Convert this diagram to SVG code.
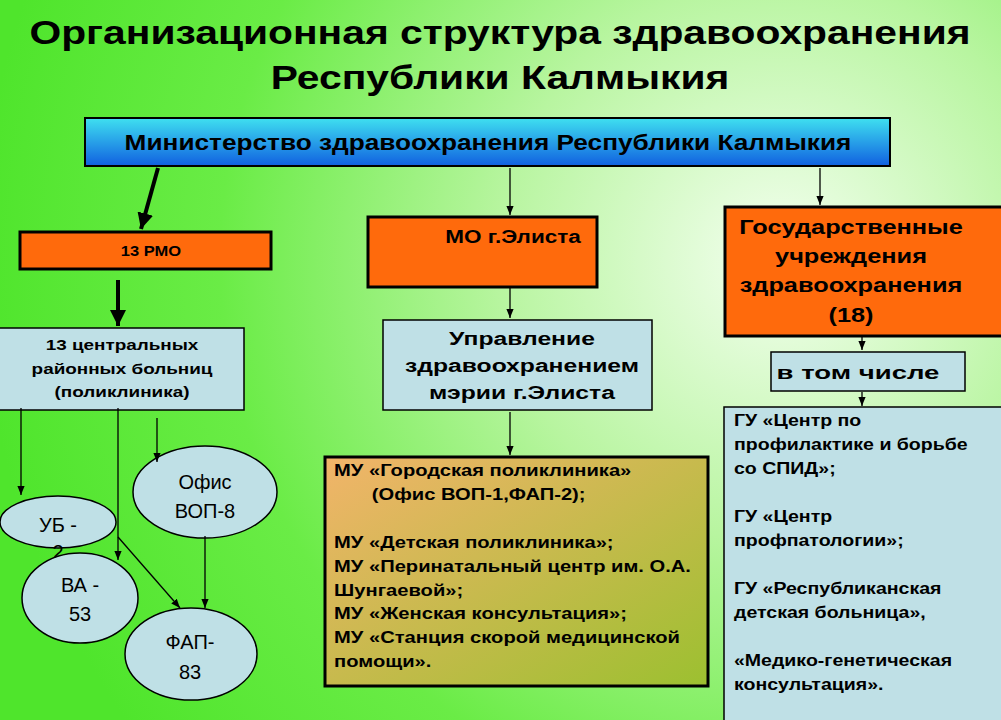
<svg xmlns="http://www.w3.org/2000/svg" width="1001" height="720" viewBox="0 0 1001 720">
<defs>
<radialGradient id="bg" cx="780" cy="260" r="800" gradientUnits="userSpaceOnUse">
<stop offset="0" stop-color="#f4fff0"/><stop offset="0.35" stop-color="#b8f5a0"/><stop offset="0.7" stop-color="#6aec46"/><stop offset="1" stop-color="#4fe52c"/>
</radialGradient>
<linearGradient id="blue" x1="0" y1="0" x2="0" y2="1"><stop offset="0" stop-color="#3fe0f0"/><stop offset="1" stop-color="#1060e0"/></linearGradient>
<linearGradient id="olive" x1="0" y1="0" x2="1" y2="1"><stop offset="0" stop-color="#f2b46a"/><stop offset="1" stop-color="#9cc030"/></linearGradient>
<marker id="a" viewBox="0 0 10 10" refX="10" refY="5" markerWidth="7" markerHeight="7" orient="auto"><path d="M0,1 L10,5 L0,9z" fill="#000"/></marker>
<marker id="b" viewBox="0 0 10 10" refX="10" refY="5" markerWidth="4" markerHeight="4" orient="auto"><path d="M0,0 L10,5 L0,10z" fill="#000"/></marker>
<style>
text{font-family:"Liberation Sans",Arial,sans-serif;fill:#000}
.b{font-weight:bold}
.or{fill:#ff6a0c;stroke:#000;stroke-width:3}
.lb{fill:#bfe0e6;stroke:#000;stroke-width:1.5}
.c line{stroke:#000;stroke-width:1.3;marker-end:url(#a)}
.c line.t{stroke-width:4;marker-end:url(#b)}
</style>
</defs>
<rect width="1001" height="720" fill="url(#bg)"/>
<g id="title"><text class="b" font-size="34" text-anchor="middle" transform="matrix(1.2 0 0 1 -100 0)"><tspan x="500" y="44">Организационная структура здравоохранения</tspan><tspan x="500" y="89">Республики Калмыкия</tspan></text></g>
<g id="ministry"><rect x="85" y="118" width="805" height="48" fill="url(#blue)" stroke="#000" stroke-width="2"/><text class="b" x="488" y="150" font-size="21.5" text-anchor="middle" transform="matrix(1.22 0 0 1 -107.4 0)">Министерство здравоохранения Республики Калмыкия</text></g>
<g id="rmo"><rect class="or" x="20" y="232" width="251" height="37"/><text class="b" x="151" y="256" font-size="15" text-anchor="middle" transform="matrix(1.1 0 0 1 -15.1 0)">13 РМО</text></g>
<g id="crb"><rect class="lb" x="-2" y="328" width="246" height="82"/><text class="b" font-size="15.5" text-anchor="middle" transform="matrix(1.22 0 0 1 -26.8 0)"><tspan x="122" y="350">13 центральных</tspan><tspan x="122" y="374">районных больниц</tspan><tspan x="122" y="397">(поликлиника)</tspan></text></g>
<g id="mo"><rect class="or" x="368" y="217" width="229" height="70"/><text class="b" x="513" y="243" font-size="18" text-anchor="middle" transform="matrix(1.25 0 0 1 -128.2 0)">МО г.Элиста</text></g>
<g id="upr"><rect class="lb" x="383" y="320" width="269" height="90"/><text class="b" font-size="19" text-anchor="middle" transform="matrix(1.3 0 0 1 -156.6 0)"><tspan x="522" y="345">Управление</tspan><tspan x="522" y="372">здравоохранением</tspan><tspan x="522" y="399">мэрии г.Элиста</tspan></text></g>
<g id="mu"><rect x="325" y="457" width="383" height="229" fill="url(#olive)" stroke="#000" stroke-width="3"/><text class="b" font-size="16" transform="matrix(1.26 0 0 1 -86.8 0)"><tspan x="334" y="476">МУ «Городская поликлиника»</tspan><tspan x="364" y="500">(Офис ВОП-1,ФАП-2);</tspan><tspan x="334" y="548">МУ «Детская поликлиника»;</tspan><tspan x="334" y="572">МУ «Перинатальный центр им. О.А.</tspan><tspan x="334" y="596">Шунгаевой»;</tspan><tspan x="334" y="619">МУ «Женская консультация»;</tspan><tspan x="334" y="643">МУ «Станция скорой медицинской</tspan><tspan x="334" y="667">помощи».</tspan></text></g>
<g id="gos"><rect class="or" x="725" y="207" width="278" height="129"/><text class="b" font-size="19.5" text-anchor="middle" transform="matrix(1.3 0 0 1 -255.3 0)"><tspan x="851" y="234">Государственные</tspan><tspan x="851" y="263">учреждения</tspan><tspan x="851" y="292">здравоохранения</tspan><tspan x="851" y="322">(18)</tspan></text></g>
<g id="vtom"><rect class="lb" x="771" y="352" width="194" height="39"/><text class="b" x="858" y="379" font-size="19" text-anchor="middle" transform="matrix(1.45 0 0 1 -386.1 0)">в том числе</text></g>
<g id="gu"><rect class="lb" x="724" y="407" width="279" height="315"/><text class="b" font-size="17" transform="matrix(1.15 0 0 1 -110.1 0)"><tspan x="734" y="426">ГУ «Центр по</tspan><tspan x="734" y="450">профилактике и борьбе</tspan><tspan x="734" y="474">со СПИД»;</tspan><tspan x="734" y="522">ГУ «Центр</tspan><tspan x="734" y="546">профпатологии»;</tspan><tspan x="734" y="594">ГУ «Республиканская</tspan><tspan x="734" y="618">детская больница»,</tspan><tspan x="734" y="666">«Медико-генетическая</tspan><tspan x="734" y="690">консультация».</tspan></text></g>
<g id="ub"><ellipse class="lb" cx="58" cy="522" rx="58" ry="26"/><text x="58" y="532" font-size="20" text-anchor="middle">УБ -</text><text x="58" y="559" font-size="20" text-anchor="middle">2</text></g>
<g id="ofis"><ellipse class="lb" cx="205" cy="492" rx="72" ry="46"/><text font-size="20" text-anchor="middle"><tspan x="205" y="489">Офис</tspan><tspan x="205" y="518">ВОП-8</tspan></text></g>
<g id="va"><ellipse class="lb" cx="80" cy="598" rx="58" ry="45"/><text font-size="20" text-anchor="middle"><tspan x="80" y="592">ВА -</tspan><tspan x="80" y="621">53</tspan></text></g>
<g id="fap"><ellipse class="lb" cx="191" cy="654" rx="66" ry="46"/><text font-size="20" text-anchor="middle"><tspan x="190" y="649">ФАП-</tspan><tspan x="190" y="679">83</tspan></text></g>
<g class="c" id="connectors">
<line class="t" x1="158" y1="168" x2="141" y2="229"/>
<line class="t" x1="118" y1="280" x2="118" y2="326"/>
<line x1="510" y1="168" x2="510" y2="215"/>
<line x1="820" y1="168" x2="820" y2="205"/>
<line x1="510" y1="288" x2="510" y2="318"/>
<line x1="510" y1="412" x2="510" y2="455"/>
<line x1="862" y1="337" x2="862" y2="350"/>
<line x1="862" y1="392" x2="862" y2="406"/>
<line x1="21" y1="408" x2="21" y2="495"/>
<line x1="118" y1="408" x2="118" y2="560"/>
<line x1="157" y1="418" x2="157" y2="462"/>
<line x1="118" y1="537" x2="180" y2="608"/>
<line x1="205" y1="536" x2="205" y2="608"/>
</g>
</svg>
